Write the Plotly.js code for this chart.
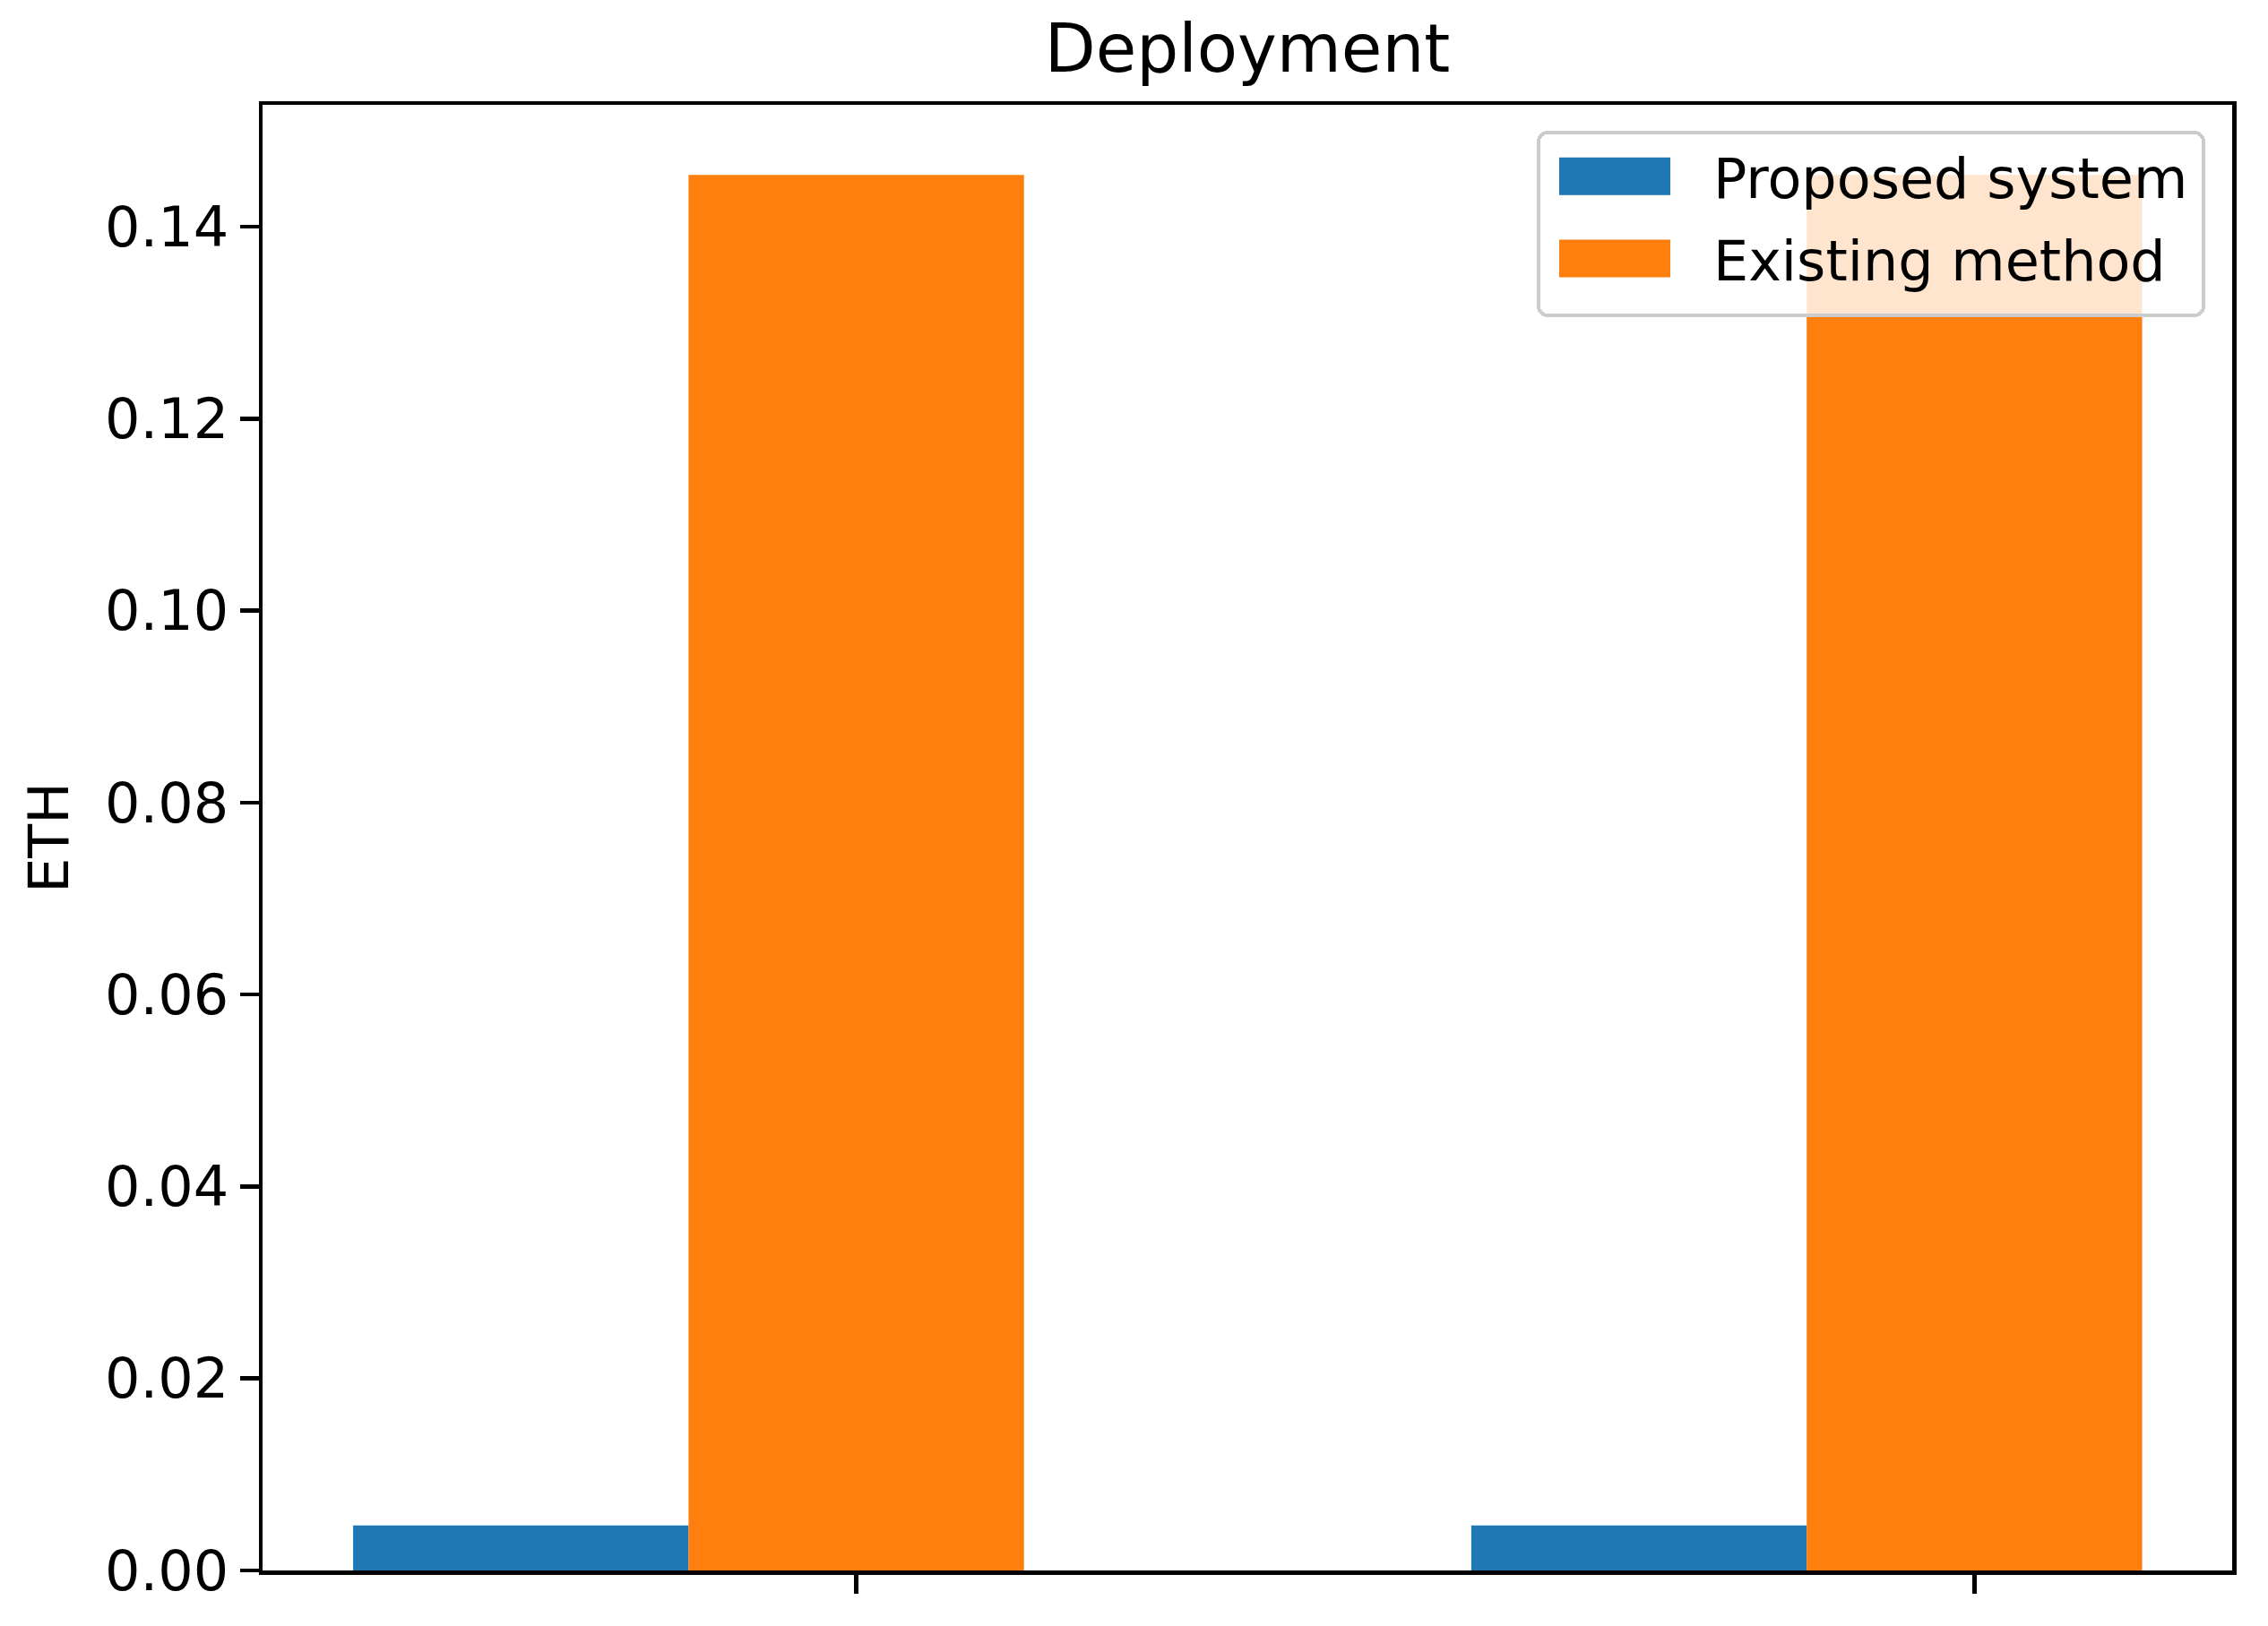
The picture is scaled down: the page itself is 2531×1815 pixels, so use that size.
<!DOCTYPE html>
<html>
<head>
<meta charset="utf-8">
<script src="https://cdn.plot.ly/plotly-3.0.1.min.js"></script>
<style>
  html, body { margin: 0; padding: 0; background: #ffffff; }
  #chart { width: 2531px; height: 1815px; }
</style>
</head>
<body>
<div id="chart"></div>
<script>
// ---- data ----
const groupPositions = [0, 1];
const groupLabels = ['', ''];
const seriesNames = ['Proposed system', 'Existing method'];
const proposedSystem = [0.0047, 0.0047];
const existingMethod = [0.1454, 0.1454];
const yTickVals = [0, 0.02, 0.04, 0.06, 0.08, 0.10, 0.12, 0.14];
const yTickText = ['0.00', '0.02', '0.04', '0.06', '0.08', '0.10', '0.12', '0.14'];

const FONT = 'DejaVu Sans, Liberation Sans, sans-serif';
const barWidth = 0.3;

const traces = [
  {
    type: 'bar',
    name: seriesNames[0],
    x: groupPositions,
    y: proposedSystem,
    width: barWidth,
    offset: -1.5 * barWidth,
    marker: { color: '#1f77b4', line: { width: 0 } },
    legendgroup: 'a',
    hoverinfo: 'y'
  },
  {
    type: 'bar',
    name: seriesNames[1],
    x: groupPositions,
    y: existingMethod,
    width: barWidth,
    offset: -0.5 * barWidth,
    marker: { color: '#ff7f0e', line: { width: 0 } },
    legendgroup: 'b',
    hoverinfo: 'y'
  }
];

const layout = {
  width: 2531,
  height: 1815,
  paper_bgcolor: '#ffffff',
  plot_bgcolor: '#ffffff',
  font: { family: FONT, size: 62, color: '#000000' },
  margin: { l: 293, r: 40, t: 117, b: 62, pad: 0, autoexpand: false },
  barmode: 'overlay',
  showlegend: true,
  title: {
    text: 'Deployment',
    font: { family: FONT, size: 74, color: '#000000' },
    x: 0.5 + (293 - 40) / 2 / 2531, xref: 'container', xanchor: 'center',
    y: 1 - 54 / 1815, yref: 'container', yanchor: 'middle'
  },
  xaxis: {
    range: [-0.531, 1.2305],
    tickmode: 'array',
    tickvals: groupPositions,
    ticktext: groupLabels,
    showticklabels: false,
    ticks: 'outside',
    ticklen: 21,
    tickwidth: 4.5,
    tickcolor: '#000000',
    showgrid: false,
    zeroline: false,
    showline: true,
    linecolor: '#000000',
    linewidth: 4.5,
    mirror: true,
    fixedrange: true
  },
  yaxis: {
    range: [0, 0.1527],
    tickmode: 'array',
    tickvals: yTickVals,
    ticktext: yTickText,
    ticks: 'outside',
    ticklen: 21,
    tickwidth: 4.5,
    tickcolor: '#000000',
    tickfont: { family: FONT, size: 62, color: '#000000' },
    showgrid: false,
    zeroline: false,
    showline: true,
    linecolor: '#000000',
    linewidth: 4.5,
    mirror: true,
    automargin: false,
    title: { text: 'ETH', font: { family: FONT, size: 62, color: '#000000' }, standoff: 22 },
    fixedrange: true
  },
  legend: {
    x: (1715 - 293) / 2198,
    y: (1753 - 146) / 1636,
    xanchor: 'left',
    yanchor: 'top',
    bgcolor: 'rgba(255,255,255,0.8)',
    bordercolor: '#cccccc',
    borderwidth: 4,
    font: { family: FONT, size: 62, color: '#000000' },
    itemwidth: 183,
    tracegroupgap: 8,
    traceorder: 'grouped'
  }
};

Plotly.newPlot('chart', traces, layout, { displayModeBar: false, staticPlot: true }).then(function (gd) {
  // matplotlib-like legend patches (124 x 42 px, left edge ~23 px inside the frame)
  const gdRect = gd.getBoundingClientRect();
  const bg = gd.querySelector('.legend rect.bg');
  let boxLeft = null;
  if (bg) {
    const br = bg.getBoundingClientRect();
    boxLeft = br.left - gdRect.left;
    bg.setAttribute('width', 742);
    bg.setAttribute('height', 204);
    bg.setAttribute('rx', 10);
    bg.setAttribute('ry', 10);
  }
  gd.querySelectorAll('.legend .legendpoints path').forEach(function (p) {
    const r = p.getBoundingClientRect();
    if (r.width === 0) return;
    const cx = r.left - gdRect.left + r.width / 2;
    const targetCx = (boxLeft !== null ? boxLeft : 1715) + 85;
    const dx = targetCx - cx;
    p.setAttribute('d', 'M' + (dx + 62) + ',21H' + (dx - 62) + 'V-21H' + (dx + 62) + 'Z');
  });
});
</script>
</body>
</html>
